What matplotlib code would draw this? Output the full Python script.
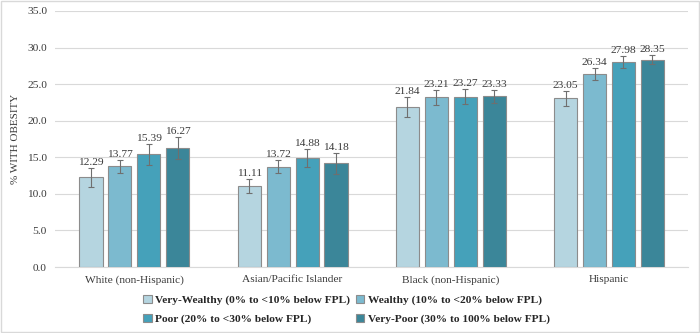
import matplotlib.pyplot as plt
import numpy as np
from matplotlib.patches import Rectangle

plt.rcParams['font.family'] = ['Liberation Serif', 'DejaVu Serif']

groups = ['White (non-Hispanic)', 'Asian/Pacific Islander', 'Black (non-Hispanic)', 'Hispanic']
series = ['Very-Wealthy (0% to <10% below FPL)', 'Wealthy (10% to <20% below FPL)',
          'Poor (20% to <30% below FPL)', 'Very-Poor (30% to 100% below FPL)']
very_wealthy = [12.29, 11.11, 21.84, 23.05]
wealthy = [13.77, 13.72, 23.21, 26.34]
poor = [15.39, 14.88, 23.27, 27.98]
very_poor = [16.27, 14.18, 23.33, 28.35]
err_very_wealthy = [1.3, 0.95, 1.35, 1.05]
err_wealthy = [0.85, 0.9, 1.0, 0.8]
err_poor = [1.4, 1.25, 1.05, 0.8]
err_very_poor = [1.55, 1.4, 0.85, 0.65]

values = [very_wealthy, wealthy, poor, very_poor]
errors = [err_very_wealthy, err_wealthy, err_poor, err_very_poor]
colors = ['#b5d5e0', '#7cbacf', '#45a1ba', '#3b8699']

fig = plt.figure(figsize=(7, 3.33), dpi=100)
ax = fig.add_axes([0.079, 0.198, 0.904, 0.769])

x = np.arange(len(groups))
pitch = 0.183
width = 0.146
handles = []
for i, (vals, errs, c, name) in enumerate(zip(values, errors, colors, series)):
    pos = x + (i - 1.5) * pitch
    h = ax.bar(pos, vals, width, color=c, edgecolor='#8c8c8c', linewidth=0.8, label=name, zorder=3)
    handles.append(h)
    ax.errorbar(pos, vals, yerr=errs, fmt='none', ecolor='#6f6f6f', elinewidth=0.8,
                capsize=2.5, capthick=0.8, zorder=4)
    for px, v, e in zip(pos, vals, errs):
        ax.text(px, v + e + 0.15, f'{v:.2f}', ha='center', va='bottom', fontsize=8.2, color='#3a3a3a')

ax.set_ylim(0, 35)
ax.set_xlim(-0.5, 3.5)
ax.set_yticks(np.arange(0, 35.1, 5))
ax.set_yticklabels([f'{t:.1f}' for t in np.arange(0, 35.1, 5)])
ax.set_xticks(x)
ax.set_xticklabels(groups)
ax.tick_params(axis='both', length=0, labelsize=8.2, colors='#3a3a3a')
ax.tick_params(axis='y', pad=6)
ax.tick_params(axis='x', pad=6)
ax.grid(axis='y', color='#d9d9d9', linewidth=0.8, zorder=0)
for s in ['top', 'right', 'left']:
    ax.spines[s].set_visible(False)
ax.spines['bottom'].set_color('#d9d9d9')
ax.set_ylabel('% WITH OBESITY', fontsize=8, color='#3a3a3a', labelpad=5)

# row-wise order: matplotlib fills legend columns first
order = [0, 2, 1, 3]
fig.legend([handles[k] for k in order], [series[k] for k in order],
           loc='upper center', bbox_to_anchor=(0.495, 0.145), ncol=2, frameon=False,
           prop={'weight': 'bold', 'size': 8.2}, handlelength=0.75, handleheight=0.75,
           handletextpad=0.3, columnspacing=0.5, labelspacing=0.75, labelcolor='#262626')

fig.patches.append(Rectangle((0.002, 0.003), 0.996, 0.994, transform=fig.transFigure,
                             fill=False, edgecolor='#d9d9d9', linewidth=1))

fig.savefig('out.png', dpi=100)
